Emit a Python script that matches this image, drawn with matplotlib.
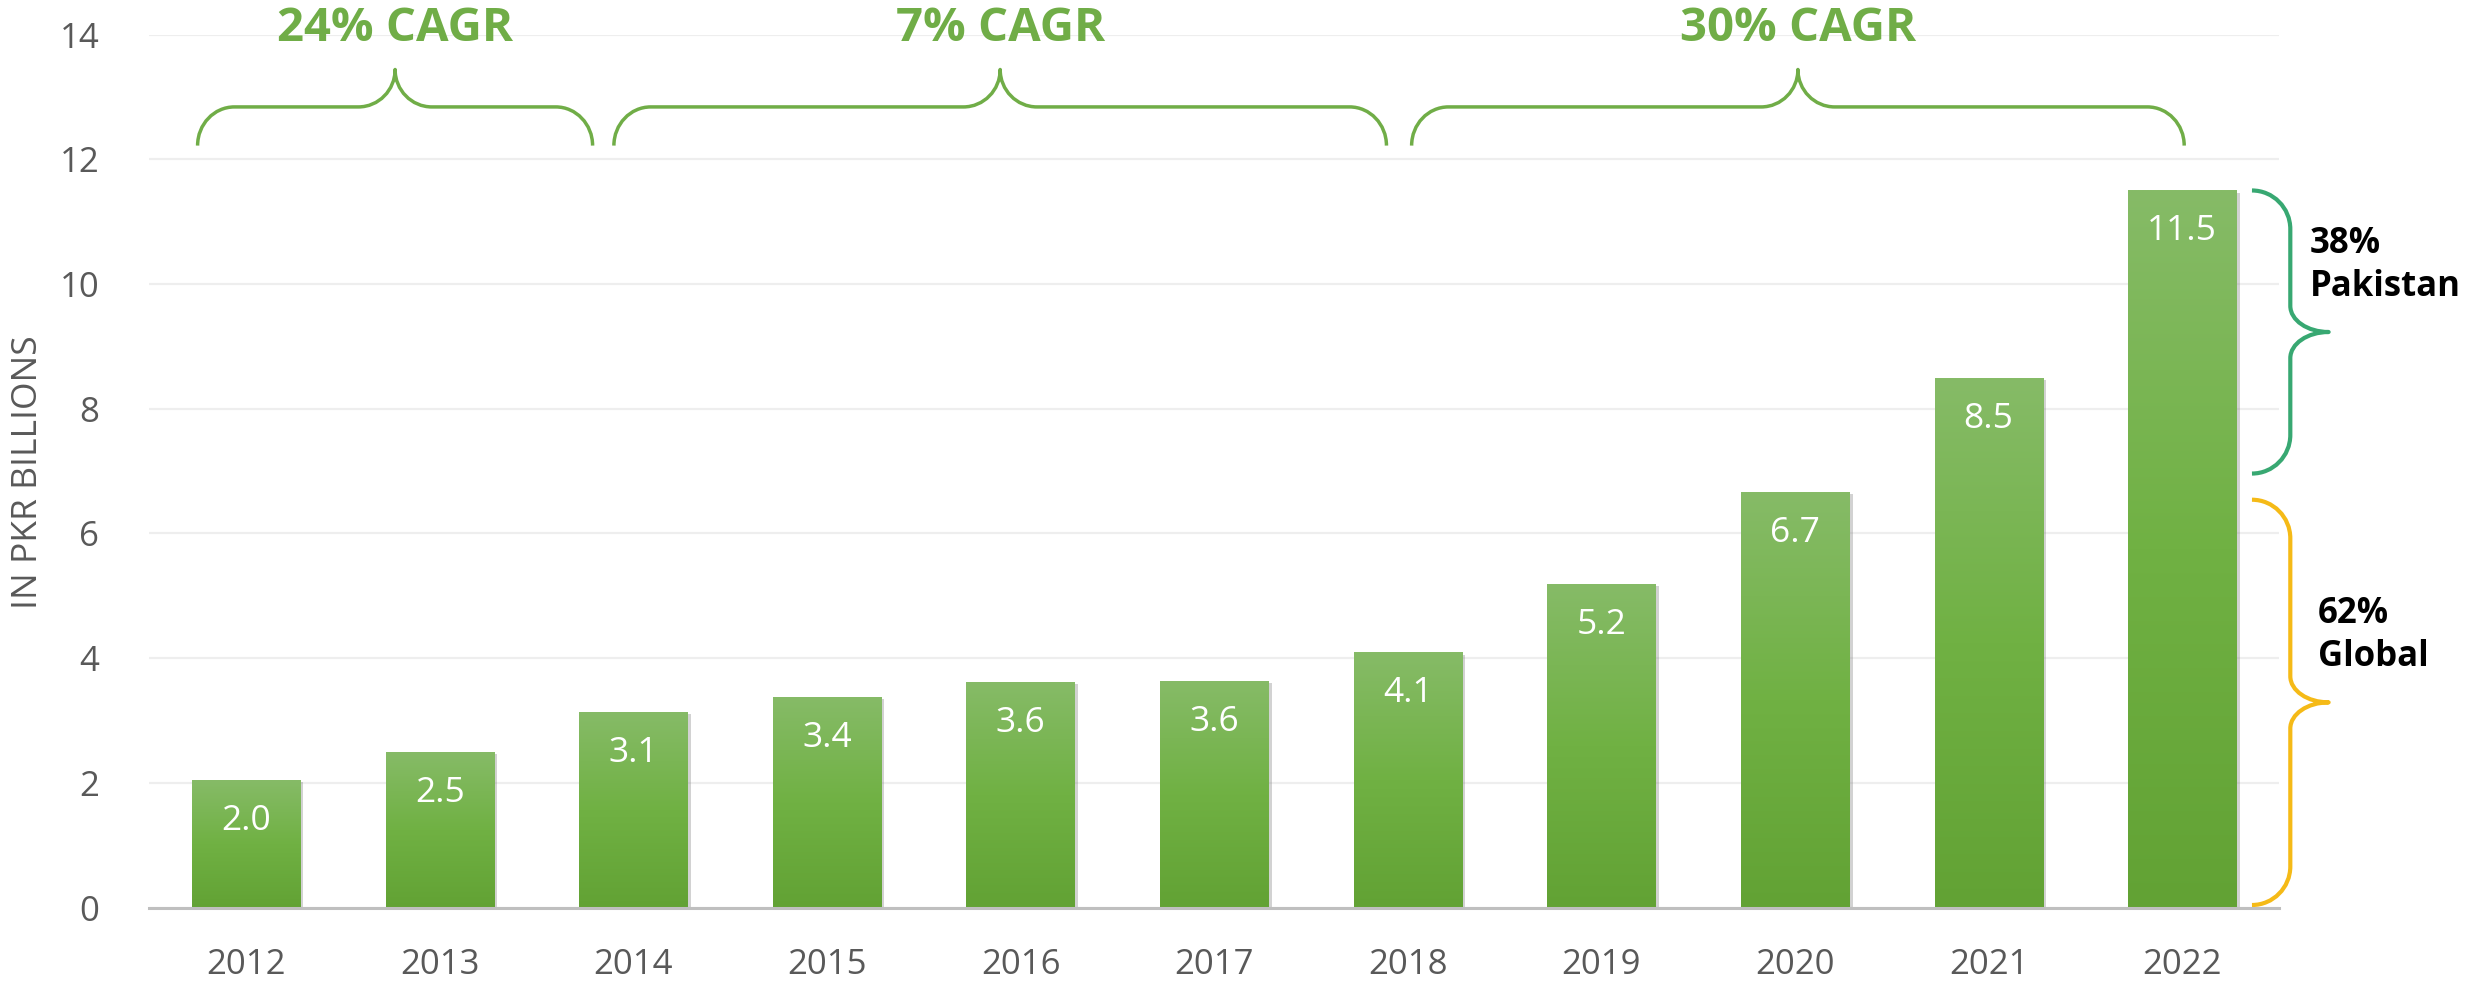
import numpy as np
import matplotlib.pyplot as plt
from matplotlib.path import Path
from matplotlib.patches import PathPatch
from matplotlib.colors import LinearSegmentedColormap
import matplotlib.patheffects as pe

plt.rcParams['font.family'] = ['Open Sans', 'DejaVu Sans']

years = ['2012', '2013', '2014', '2015', '2016', '2017',
         '2018', '2019', '2020', '2021', '2022']
revenue = [2.04, 2.49, 3.13, 3.38, 3.62, 3.64, 4.09, 5.19, 6.67, 8.5, 11.5]
yticks = [0, 2, 4, 6, 8, 10, 12, 14]

cagr_labels = ['24% CAGR', '7% CAGR', '30% CAGR']
cagr_spans = [(-0.25, 1.79), (1.90, 5.89), (6.02, 10.01)]

share_labels = ['38%\nPakistan', '62%\nGlobal']
share_spans = [(6.96, 11.5), (0.04, 6.54)]
share_colors = ['#38A872', '#F5BA17']

GREEN = '#70AD47'
GREY = '#595959'
K = 0.5523


def hbrace(ax, x0, x1, yb, yf, yt, r=0.19, **kw):
    xm = (x0 + x1) / 2
    verts = [
        (x0, yb),
        (x0, yb + K * (yf - yb)), (x0 + r - K * r, yf), (x0 + r, yf),
        (xm - r, yf),
        (xm - r + K * r, yf), (xm, yt - K * (yt - yf)), (xm, yt),
        (xm, yt - K * (yt - yf)), (xm + r - K * r, yf), (xm + r, yf),
        (x1 - r, yf),
        (x1 - r + K * r, yf), (x1, yb + K * (yf - yb)), (x1, yb),
    ]
    codes = ([Path.MOVETO] + [Path.CURVE4] * 3 + [Path.LINETO]
             + [Path.CURVE4] * 6 + [Path.LINETO] + [Path.CURVE4] * 3)
    ax.add_patch(PathPatch(Path(verts, codes), fill=False, clip_on=False,
                           capstyle='butt', joinstyle='round', **kw))


def vbrace(ax, y0, y1, xe, xv, xt, r=0.62, rt=0.42, **kw):
    # opens to the left, tip points right
    ym = (y0 + y1) / 2
    verts = [
        (xe, y1),
        (xe + K * (xv - xe), y1), (xv, y1 - r + K * r), (xv, y1 - r),
        (xv, ym + rt),
        (xv, ym + rt - K * rt), (xt - K * (xt - xv), ym), (xt, ym),
        (xt - K * (xt - xv), ym), (xv, ym - rt + K * rt), (xv, ym - rt),
        (xv, y0 + r),
        (xv, y0 + r - K * r), (xe + K * (xv - xe), y0), (xe, y0),
    ]
    codes = ([Path.MOVETO] + [Path.CURVE4] * 3 + [Path.LINETO]
             + [Path.CURVE4] * 6 + [Path.LINETO] + [Path.CURVE4] * 3)
    ax.add_patch(PathPatch(Path(verts, codes), fill=False, clip_on=False,
                           capstyle='butt', joinstyle='round', **kw))


fig = plt.figure(figsize=(24.66, 9.83), dpi=100)
ax = fig.add_axes([0.0605, 0.0768, 0.8637, 0.888])

x = np.arange(len(years))
bars = ax.bar(x, revenue, width=0.558, color='#70B043', zorder=2)

cmap = LinearSegmentedColormap.from_list(
    'bar', ['#62A234', '#70B143', '#86BB67'])
grad = np.linspace(0, 1, 256).reshape(-1, 1)
for b in bars:
    b.set_path_effects([pe.SimplePatchShadow(offset=(2.5, -1.5),
                                             shadow_rgbFace='#808080',
                                             alpha=0.35), pe.Normal()])
    bx, bw, bh = b.get_x(), b.get_width(), b.get_height()
    im = ax.imshow(grad, extent=[bx, bx + bw, 0, bh], origin='lower',
                   aspect='auto', cmap=cmap, zorder=2.1)
    im.set_clip_path(b)

for xi, v in zip(x, revenue):
    ax.annotate(f'{v:.1f}', (xi, v), xytext=(0, -29.5),
                textcoords='offset points', ha='center', va='center',
                color='white', fontsize=25.5, zorder=3)

ax.set_xlim(-0.5, len(years) - 0.5)
ax.set_ylim(0, 14)
ax.set_xticks(x)
ax.set_xticklabels(years)
ax.set_yticks(yticks)
ax.tick_params(axis='both', length=0, labelsize=25, labelcolor=GREY)
ax.tick_params(axis='x', pad=29)
ax.tick_params(axis='y', pad=36)
ax.yaxis.grid(True, color='#EEEEEE', linewidth=1.6, zorder=0)
ax.set_axisbelow(True)
for s in ['top', 'right', 'left']:
    ax.spines[s].set_visible(False)
ax.spines['bottom'].set_color('#BFBFBF')
ax.spines['bottom'].set_linewidth(2.2)
ax.spines['bottom'].set_zorder(4)

fig.text(28 / 2466, 1 - 472 / 983, 'IN PKR BILLIONS', rotation=90,
         ha='center', va='center', fontsize=25.5, color=GREY)

# CAGR braces along the top
for lab, (a, b) in zip(cagr_labels, cagr_spans):
    hbrace(ax, a, b, 12.22, 12.84, 13.44, edgecolor=GREEN, linewidth=2.5)
    ax.text((a + b) / 2, 14.1, lab, ha='center', va='center',
            fontsize=34, fontweight='bold', color=GREEN)

# share braces on the right
text_x = [10.66, 10.70]
for lab, (lo, hi), c, tx in zip(share_labels, share_spans, share_colors, text_x):
    vbrace(ax, lo, hi, 10.36, 10.558, 10.756,
           edgecolor=c, linewidth=3)
    ax.text(tx, (lo + hi) / 2 + 1.07, lab, ha='left', va='center',
            fontsize=25, fontweight='bold', color='black',
            linespacing=1.25)

fig.savefig('out.png', dpi=100)
